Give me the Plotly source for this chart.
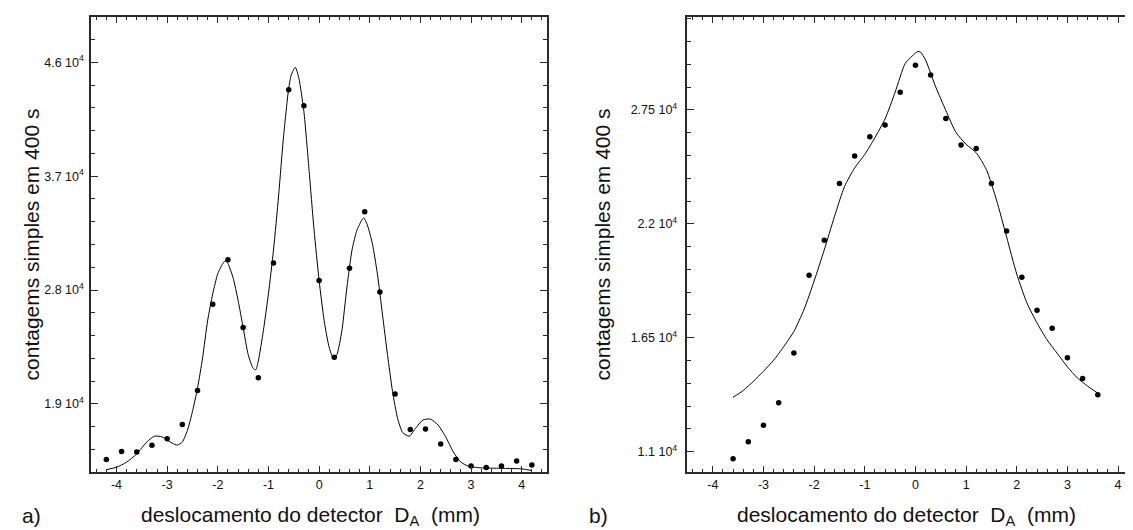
import plotly.graph_objects as go

# ---------------- data: panel a) ----------------
a_pts_x = [-4.2, -3.9, -3.6, -3.3, -3.0, -2.7, -2.4, -2.1, -1.8, -1.5, -1.2, -0.9, -0.6, -0.3,
           0.0, 0.3, 0.6, 0.9, 1.2, 1.5, 1.8, 2.1, 2.4, 2.7, 3.0, 3.3, 3.6, 3.9, 4.2]
a_pts_y = [14610, 15250, 15200, 15730, 16260, 17380, 20070, 26880, 30400, 25050, 21080, 30130,
           43820, 42570, 28750, 22700, 29730, 34180, 27840, 19780, 16980, 17030, 15840, 14610,
           14100, 13970, 14100, 14500, 14180]

a_fit_x = [-4.2, -4.0, -3.8, -3.6, -3.4, -3.25, -3.1, -2.9, -2.8, -2.7, -2.6, -2.5, -2.4, -2.3,
           -2.2, -2.1, -2.0, -1.9, -1.85, -1.8, -1.7, -1.6, -1.5, -1.4, -1.3, -1.25, -1.2, -1.1,
           -1.0, -0.9, -0.8, -0.7, -0.6, -0.55, -0.47, -0.4, -0.3, -0.2, -0.1, 0.0, 0.1, 0.2,
           0.28, 0.35, 0.45, 0.55, 0.65, 0.75, 0.88, 0.95, 1.05, 1.15, 1.25, 1.35, 1.45, 1.55,
           1.65, 1.78, 1.9, 2.05, 2.2, 2.35, 2.5, 2.65, 2.8, 2.95, 3.2, 3.5, 4.0, 4.2]
a_fit_y = [13810, 14000, 14400, 15060, 16000, 16450, 16400, 15900, 15750, 16000, 16900, 18400,
           20250, 22650, 25600, 27700, 29300, 30100, 30320, 30100, 29000, 27200, 25050, 22900,
           21800, 21700, 22400, 24800, 27700, 31170, 35430, 40220, 43950, 45000, 45600, 44750,
           42100, 37560, 32770, 28770, 25580, 23450, 22650, 22900, 24800, 28240, 31170, 32770,
           33700, 33170, 31700, 29300, 26100, 22900, 19980, 17860, 16740, 16450, 17060, 17730,
           17800, 17330, 16400, 15200, 14400, 14080, 13950, 13920, 13870, 13740]

# ---------------- data: panel b) ----------------
b_pts_x = [-3.6, -3.3, -3.0, -2.7, -2.4, -2.1, -1.8, -1.5, -1.2, -0.9, -0.6, -0.3, 0.0, 0.3,
           0.6, 0.9, 1.2, 1.5, 1.8, 2.1, 2.4, 2.7, 3.0, 3.3, 3.6]
b_pts_y = [10660, 11470, 12270, 13360, 15760, 19520, 21200, 23950, 25270, 26200, 26770, 28350,
           29650, 29180, 27090, 25810, 25630, 23950, 21650, 19420, 17820, 16960, 15530, 14530,
           13740]

b_fit_x = [-3.6, -3.4, -3.2, -3.0, -2.8, -2.6, -2.4, -2.2, -2.0, -1.8, -1.6, -1.4, -1.2, -1.0,
           -0.8, -0.6, -0.4, -0.2, 0.0, 0.05, 0.1, 0.2, 0.4, 0.6, 0.8, 1.0, 1.2, 1.4, 1.6, 1.8,
           2.0, 2.2, 2.4, 2.6, 2.8, 3.0, 3.2, 3.4, 3.6]
b_fit_y = [13620, 13950, 14390, 14880, 15410, 16070, 16800, 17860, 19240, 20740, 22340, 23800,
           24700, 25350, 26160, 27060, 28360, 29750, 30240, 30320, 30290, 29910, 28610, 27470,
           26410, 25840, 25430, 24620, 23150, 21360, 19570, 18180, 17210, 16390, 15740, 15090,
           14550, 14160, 13820]

# ---------------- ticks ----------------
x_tickvals = [-4, -3, -2, -1, 0, 1, 2, 3, 4]
x_ticktext = ["-4", "-3", "-2", "-1", "0", "1", "2", "3", "4"]
a_tickvals = [19000, 28000, 37000, 46000]
a_ticktext = ["1.9 10<sup>4</sup>", "2.8 10<sup>4</sup>", "3.7 10<sup>4</sup>", "4.6 10<sup>4</sup>"]
b_tickvals = [11000, 16500, 22000, 27500]
b_ticktext = ["1.1 10<sup>4</sup>", "1.65 10<sup>4</sup>", "2.2 10<sup>4</sup>", "2.75 10<sup>4</sup>"]

W, H = 1133, 530
FONT = "Liberation Sans, Arial, sans-serif"
AX = "#2a2a2a"

fig = go.Figure()
fig.add_trace(go.Scatter(x=a_fit_x, y=a_fit_y, mode="lines", line=dict(color="black", width=1, shape="spline", smoothing=0.6),
                         xaxis="x", yaxis="y", showlegend=False))
fig.add_trace(go.Scatter(x=a_pts_x, y=a_pts_y, mode="markers", marker=dict(color="black", size=5.5),
                         xaxis="x", yaxis="y", showlegend=False))
fig.add_trace(go.Scatter(x=b_fit_x, y=b_fit_y, mode="lines", line=dict(color="black", width=1, shape="spline", smoothing=0.6),
                         xaxis="x2", yaxis="y2", showlegend=False))
fig.add_trace(go.Scatter(x=b_pts_x, y=b_pts_y, mode="markers", marker=dict(color="black", size=5.5),
                         xaxis="x2", yaxis="y2", showlegend=False))

common = dict(showline=True, linecolor=AX, linewidth=1.5, mirror="ticks", ticks="inside",
              ticklen=7, tickwidth=1.2, tickcolor=AX, showgrid=False, zeroline=False,
              tickfont=dict(family=FONT, size=12.5, color="#111"))

ax_l = (83.3 / W, 540 / W)
ax_r = (680.7 / W, 1.0)
ydom = (1 - 464.3 / H, 1 - 8.7 / H)

fig.update_layout(
    width=W, height=H, margin=dict(l=0, r=0, t=0, b=0),
    paper_bgcolor="white", plot_bgcolor="white",
    xaxis=dict(domain=ax_l, range=[-4.5, 4.5], tickvals=x_tickvals, ticktext=x_ticktext,
               minor=dict(ticks="inside", ticklen=4, tickwidth=1, tickcolor=AX, dtick=0.2, tick0=0),
               anchor="y", **common),
    yaxis=dict(domain=ydom, range=[13600, 49600], tickvals=a_tickvals, ticktext=a_ticktext,
               minor=dict(ticks="inside", ticklen=4, tickwidth=1, tickcolor=AX, dtick=1800, tick0=13600),
               anchor="x", ticklabelstandoff=3, **common),
    xaxis2=dict(domain=ax_r, range=[-4.5, -4.5 + (W - 680.7) / ((540 - 83.3) / 9.0)],
                tickvals=x_tickvals, ticktext=x_ticktext,
                minor=dict(ticks="inside", ticklen=4, tickwidth=1, tickcolor=AX, dtick=0.2, tick0=0),
                anchor="y2", **common),
    yaxis2=dict(domain=ydom, range=[10000, 32000], tickvals=b_tickvals, ticktext=b_ticktext,
                minor=dict(ticks="inside", ticklen=4, tickwidth=1, tickcolor=AX, dtick=1100, tick0=11000),
                anchor="x2", ticklabelstandoff=6, **common),
)

title_font = dict(family=FONT, size=21, color="#111")
ymid = (ydom[0] + ydom[1]) / 2
annotations = [
    dict(text="contagems simples em 400 s", x=24 / W, y=ymid, textangle=-90, font=title_font),
    dict(text="contagems simples em 400 s", x=596 / W, y=ymid, textangle=-90, font=title_font),
    dict(text="deslocamento do detector&nbsp;&nbsp;D<sub>A</sub>&nbsp;&nbsp;(mm)", x=303 / W, y=1 - 508 / H, font=title_font),
    dict(text="deslocamento do detector&nbsp;&nbsp;D<sub>A</sub>&nbsp;&nbsp;(mm)", x=900 / W, y=1 - 508 / H, font=title_font),
    dict(text="a)", x=24 / W, y=1 - 507 / H, font=title_font),
    dict(text="b)", x=592 / W, y=1 - 507 / H, font=title_font),
]
for a in annotations:
    a.update(xref="paper", yref="paper", showarrow=False, xanchor="center", yanchor="middle")
fig.update_layout(annotations=annotations)

fig.write_html("out.html")
